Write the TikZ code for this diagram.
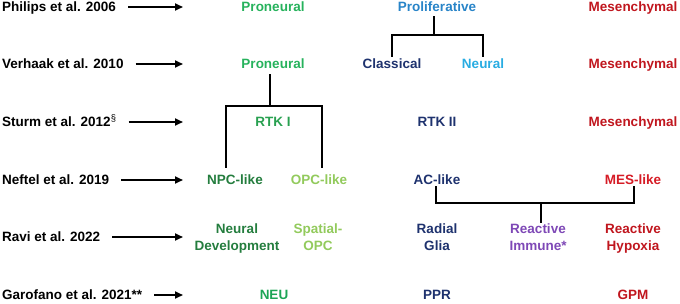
\documentclass[tikz,border=0pt]{standalone}
\usepackage{fontspec}
\setmainfont{Liberation Sans}
\usetikzlibrary{arrows.meta}
\definecolor{cPN}{RGB}{38,178,92}
\definecolor{cRTK}{RGB}{40,160,80}
\definecolor{cNEU}{RGB}{28,165,85}
\definecolor{cDG}{RGB}{36,125,62}
\definecolor{cLG}{RGB}{146,202,92}
\definecolor{cPro}{RGB}{40,132,200}
\definecolor{cNavy}{RGB}{30,50,110}
\definecolor{cLB}{RGB}{40,172,226}
\definecolor{cMes}{RGB}{192,22,30}
\definecolor{cMesB}{RGB}{214,28,38}
\definecolor{cPur}{RGB}{126,72,182}
\tikzset{
  x=1pt, y=-1pt,
  lab/.style={font=\bfseries\fontsize{13.5}{16.5}\selectfont, inner sep=0pt, text height=9.7pt, text depth=0pt},
  src/.style={lab, anchor=west, text=black},
  sub/.style={lab},
  two/.style={font=\bfseries\fontsize{13.5}{16.5}\selectfont, inner sep=0pt, anchor=north, align=center},
  arr/.style={line width=1.8pt, shorten <=12pt, -{Triangle[length=8pt,width=7pt]}},
  conn/.style={line width=2.2pt, line cap=rect}
}
\begin{document}
\begin{tikzpicture}
\useasboundingbox (0,0) rectangle (680,303);
% source labels
\node[src] (s1) at (2,7) {Philips et al. 2006};
\node[src] (s2) at (2,64) {Verhaak et al. 2010};
\node[src] (s3) at (2,122) {Sturm et al. 2012{\mdseries\textsuperscript{§}}};
\node[src] (s4) at (2,180) {Neftel et al. 2019};
\node[src] (s5) at (2,237) {Ravi et al. 2022};
\node[src] (s6) at (2,295) {Garofano et al. 2021**};
% arrow tips
\coordinate (t1) at (183,7);
\coordinate (t2) at (183,64);
\coordinate (t3) at (183,122);
\coordinate (t4) at (183,180);
\coordinate (t5) at (183,237);
\coordinate (t6) at (183,295);
\foreach \i in {1,...,6} \draw[arr] (s\i.east) -- (t\i);
% row 1
\node[sub, text=cPN] (pn1) at (273,7) {Proneural};
\node[sub, text=cPro] (pro) at (437,7) {Proliferative};
\node[sub, text=cMes] (mes1) at (633,7) {Mesenchymal};
% row 2
\node[sub, text=cPN] (pn2) at (273,64) {Proneural};
\node[sub, text=cNavy] (cla) at (392,64) {Classical};
\node[sub, text=cLB] (neu) at (483,64) {Neural};
\node[sub, text=cMes] (mes2) at (633,64) {Mesenchymal};
% row 3
\node[sub, text=cRTK] (rtk1) at (273,122) {RTK I};
\node[sub, text=cNavy] (rtk2) at (437,122) {RTK II};
\node[sub, text=cMes] (mes3) at (633,122) {Mesenchymal};
% row 4
\node[sub, text=cDG] (npc) at (235,180) {NPC-like};
\node[sub, text=cLG] (opc) at (319,180) {OPC-like};
\node[sub, text=cNavy] (ac) at (437,180) {AC-like};
\node[sub, text=cMesB] (mesl) at (633,180) {MES-like};
% row 5
\node[two, text=cDG] (nd) at (237,224) {Neural\\Development};
\node[two, text=cLG] (sp) at (318,224) {Spatial-\\OPC};
\node[two, text=cNavy] (rg) at (437,224) {Radial\\Glia};
\node[two, text=cPur] (ri) at (538,224) {Reactive\\Immune*};
\node[two, text=cMes] (rh) at (633,224) {Reactive\\Hypoxia};
% row 6
\node[sub, text=cNEU] (neu6) at (274,295) {NEU};
\node[sub, text=cNavy] (ppr) at (437,295) {PPR};
\node[sub, text=cMes] (gpm) at (633,295) {GPM};
% junctions
\coordinate (j1) at (434,35);
\coordinate (j2) at (270,106);
\coordinate (j3) at (541,203);
% Proliferative split
\draw[conn] ([xshift=-3pt,yshift=-5pt]pro.south) -- (j1);
\draw[conn] ([yshift=3pt]cla.north) |- (j1) -| ([yshift=3pt]neu.north);
% Proneural split
\draw[conn] ([xshift=-3pt,yshift=-6pt]pn2.south) -- (j2);
\draw[conn] ([xshift=-9pt,yshift=8pt]npc.north) |- (j2) -| ([xshift=3pt,yshift=8pt]opc.north);
% AC / MES merge
\draw[conn] ([xshift=-1pt,yshift=-2pt]ac.south) |- (j3) -| ([xshift=1pt,yshift=-2pt]mesl.south);
\draw[conn] (j3) -- ([xshift=3pt,yshift=2pt]ri.north);
\end{tikzpicture}
\end{document}
